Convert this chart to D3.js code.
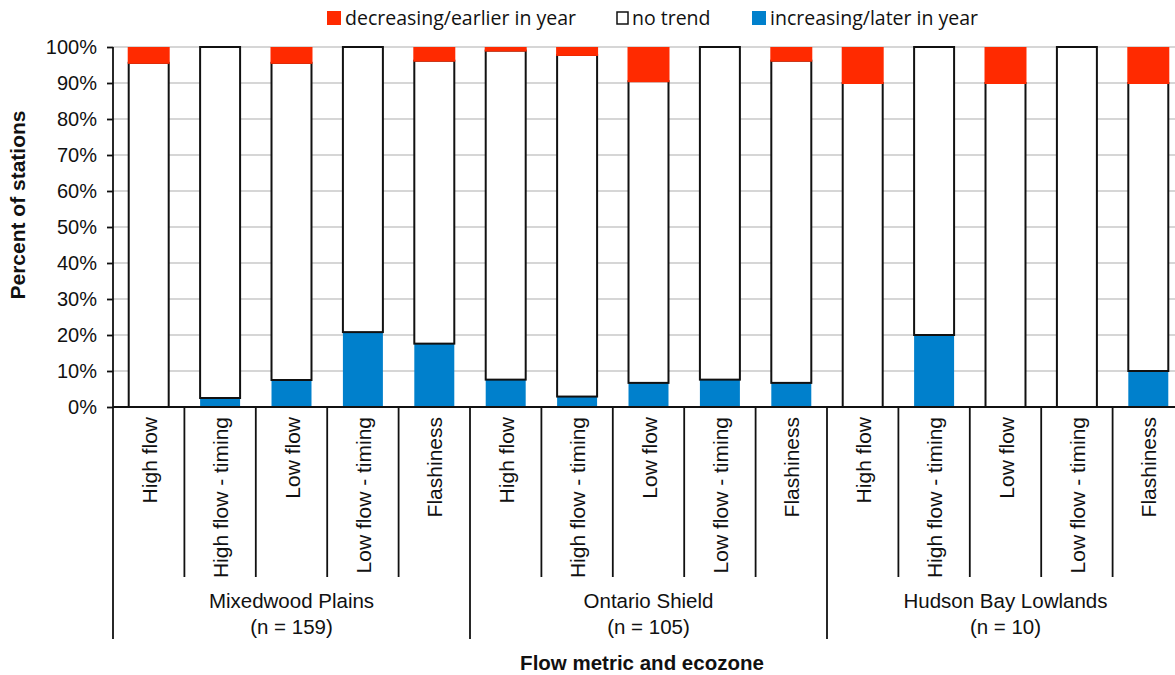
<!DOCTYPE html>
<html>
<head>
<meta charset="utf-8">
<script src="https://cdn.jsdelivr.net/npm/d3@7"></script>
<style>
  body { margin: 0; background: #fff; }
  svg text { font-family: "Liberation Sans", Arial, sans-serif; fill: #111; }
</style>
</head>
<body>
<svg width="1175" height="675"></svg>
<script>
// chart values (percent of stations)
const zones = ["Mixedwood Plains", "Ontario Shield", "Hudson Bay Lowlands"];
const zoneN = [159, 105, 10];
const metrics = ["High flow", "High flow - timing", "Low flow", "Low flow - timing", "Flashiness"];
const increasing = [0, 2.5, 7.5, 20.8, 17.6,   7.6, 2.9, 6.7, 7.6, 6.7,   0, 20, 0, 0, 10];
const decreasing = [4.4, 0, 4.4, 0, 3.8,   1.0, 2.2, 9.5, 0, 3.8,   10, 0, 10, 0, 10];
const yTicks = [0, 10, 20, 30, 40, 50, 60, 70, 80, 90, 100];

const legendNames = ["decreasing/earlier in year", "no trend", "increasing/later in year"];

const red = "#ff2a00", blue = "#0080cc";

const svg = d3.select("svg");

const plotLeft = 113, plotRight = 1184, plotTop = 47, plotBottom = 407;

// one row per bar
const rows = [];
zones.forEach((z, zi) => metrics.forEach((m, mi) => {
    const i = zi * metrics.length + mi;
    rows.push({key: i, zone: z, metric: m, inc: increasing[i], dec: decreasing[i],
        none: 100 - increasing[i] - decreasing[i]});
}));

const x = d3.scaleBand()
    .domain(rows.map(d => d.key))
    .range([plotLeft, plotRight])
    .paddingInner(0.44)
    .paddingOuter(0.22);

const y = d3.scaleLinear().domain([0, 100]).range([plotBottom, plotTop]);

// gridlines
svg.append("g")
    .selectAll("line")
    .data(yTicks.filter(t => t > 0))
    .join("line")
    .attr("x1", plotLeft).attr("x2", 1175)
    .attr("y1", d => y(d)).attr("y2", d => y(d))
    .attr("stroke", "#c8c8c8")
    .attr("stroke-width", 1.5);

// y axis
const yAxis = svg.append("g")
    .attr("transform", `translate(${plotLeft},0)`)
    .call(d3.axisLeft(y).tickValues(yTicks).tickFormat(d => d + "%").tickSize(6).tickPadding(10));
yAxis.selectAll("line, path").attr("stroke", "#111").attr("stroke-width", 1.8);
yAxis.select(".domain").attr("d", `M0,${plotBottom}V${plotTop}`);
yAxis.selectAll("text").attr("fill", "#111").style("font-size", "20px").style("font-family", "Liberation Sans, Arial, sans-serif");

// stacked bars: increasing, no trend, decreasing
const bars = svg.append("g");
bars.selectAll("rect.inc")
    .data(rows)
    .join("rect")
    .attr("class", "inc")
    .attr("x", d => x(d.key))
    .attr("width", x.bandwidth())
    .attr("y", d => y(d.inc))
    .attr("height", d => y(0) - y(d.inc))
    .attr("fill", blue);

bars.selectAll("rect.none")
    .data(rows)
    .join("rect")
    .attr("class", "none")
    .attr("x", d => x(d.key))
    .attr("width", x.bandwidth())
    .attr("y", d => y(d.inc + d.none))
    .attr("height", d => y(d.inc) - y(d.inc + d.none))
    .attr("fill", "#fff")
    .attr("stroke", "#111")
    .attr("stroke-width", 2);

bars.selectAll("rect.dec")
    .data(rows.filter(d => d.dec > 0))
    .join("rect")
    .attr("class", "dec")
    .attr("x", d => x(d.key) - 1)
    .attr("width", x.bandwidth() + 2)
    .attr("y", d => y(100))
    .attr("height", d => y(100 - d.dec) - y(100) + 1)
    .attr("fill", red);

// x axis baseline
svg.append("line")
    .attr("x1", plotLeft).attr("x2", 1175)
    .attr("y1", plotBottom).attr("y2", plotBottom)
    .attr("stroke", "#111").attr("stroke-width", 1.8);

// category dividers
const step = x.step();
svg.append("g")
    .selectAll("line")
    .data(rows.filter(d => d.key % metrics.length !== 0))
    .join("line")
    .attr("x1", d => x(d.key) - x.paddingInner() * step / 2)
    .attr("x2", d => x(d.key) - x.paddingInner() * step / 2)
    .attr("y1", plotBottom).attr("y2", 577)
    .attr("stroke", "#111").attr("stroke-width", 1.8);

// zone dividers
svg.append("g")
    .selectAll("line")
    .data(zones)
    .join("line")
    .attr("x1", (d, i) => plotLeft + i * metrics.length * step)
    .attr("x2", (d, i) => plotLeft + i * metrics.length * step)
    .attr("y1", plotBottom).attr("y2", 639)
    .attr("stroke", "#111").attr("stroke-width", 1.8);

// category labels (rotated)
svg.append("g")
    .selectAll("text")
    .data(rows)
    .join("text")
    .attr("transform", d => `translate(${x(d.key) + x.bandwidth() / 2 + 8},417) rotate(-90)`)
    .attr("text-anchor", "end")
    .style("font-size", "21px")
    .text(d => d.metric);

// zone labels
const zoneLabels = svg.append("g")
    .selectAll("text")
    .data(zones)
    .join("text")
    .attr("text-anchor", "middle")
    .style("font-size", "20.5px");
zoneLabels.append("tspan")
    .attr("x", (d, i) => plotLeft + (i + 0.5) * metrics.length * step)
    .attr("y", 608)
    .text(d => d);
zoneLabels.append("tspan")
    .attr("x", (d, i) => plotLeft + (i + 0.5) * metrics.length * step)
    .attr("y", 634)
    .text((d, i) => `(n = ${zoneN[i]})`);

// axis titles
svg.append("text")
    .attr("x", 642).attr("y", 670)
    .attr("text-anchor", "middle")
    .style("font-size", "20.5px").style("font-weight", "bold")
    .text("Flow metric and ecozone");

svg.append("text")
    .attr("transform", "translate(25,205) rotate(-90)")
    .attr("text-anchor", "middle")
    .style("font-size", "21px").style("font-weight", "bold")
    .text("Percent of stations");

// legend
const legendX = [327, 616, 752];
const legend = svg.append("g")
    .selectAll("g")
    .data(legendNames)
    .join("g")
    .attr("transform", (d, i) => `translate(${legendX[i]},0)`);
legend.append("rect")
    .attr("x", (d, i) => i === 1 ? 1 : 0)
    .attr("y", (d, i) => i === 1 ? 12 : 11)
    .attr("width", (d, i) => i === 1 ? 11 : 14)
    .attr("height", (d, i) => i === 1 ? 12 : 14)
    .attr("fill", (d, i) => [red, "#fff", blue][i])
    .attr("stroke", (d, i) => i === 1 ? "#111" : "none")
    .attr("stroke-width", 1.5);
legend.append("text")
    .attr("x", (d, i) => i === 1 ? 16 : 18).attr("y", 25)
    .style("font-family", "Open Sans, sans-serif")
    .style("font-size", "19.5px")
    .text(d => d);
</script>
</body>
</html>
